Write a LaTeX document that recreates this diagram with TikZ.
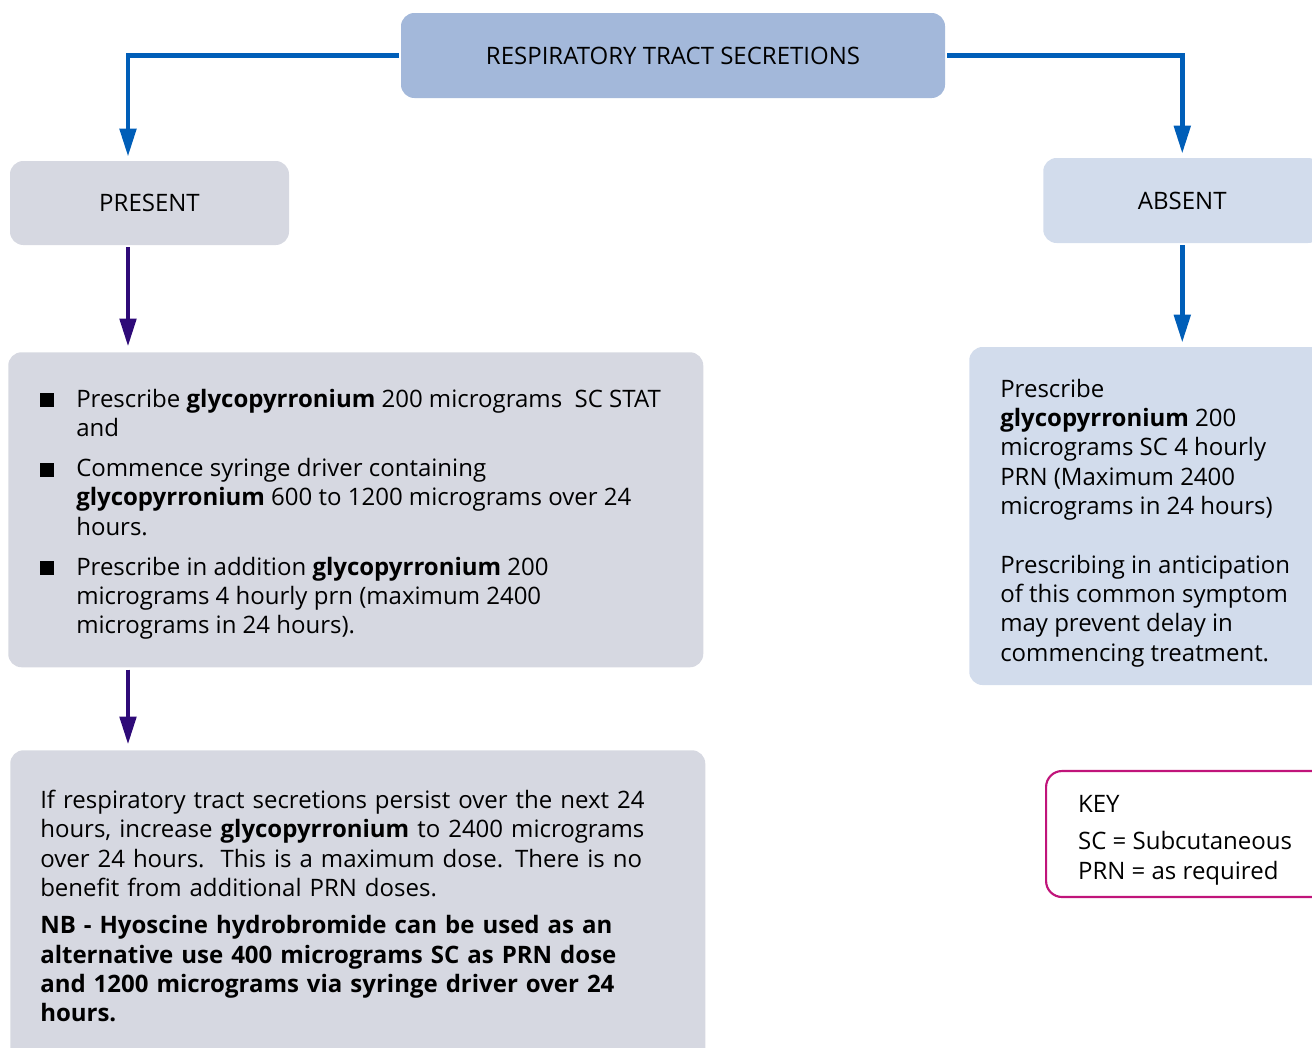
\documentclass[tikz,border=0pt]{standalone}
\usepackage{fontspec}
\setmainfont{Open Sans}
\usetikzlibrary{arrows.meta}

\definecolor{topblue}{HTML}{A3B8DA}
\definecolor{lightblue}{HTML}{D2DCEC}
\definecolor{boxgrey}{HTML}{D6D8E1}
\definecolor{lineblue}{HTML}{005EB8}
\definecolor{linepurple}{HTML}{2E0A78}
\definecolor{keyred}{HTML}{C0147A}

\begin{document}
\begin{tikzpicture}[x=0.75pt,y=-0.75pt,
	box/.style={rectangle,rounded corners=10pt,inner ysep=0pt,font=\fontsize{18}{22}\selectfont},
	bluearrow/.style={draw=lineblue,line width=3.6pt,-{Triangle[length=21pt,width=12pt]},shorten <=1.5pt,shorten >=3pt},
	purplearrow/.style={draw=linepurple,line width=3.6pt,-{Triangle[length=21pt,width=12pt]},shorten <=1.5pt,shorten >=4pt}]
	\useasboundingbox (0,0) rectangle (1312,1047);
	\clip (0,0) rectangle (1312,1047);
	% heading and the two branches
	\node [box,fill=topblue,minimum width=408pt,minimum height=63.75pt] (top) at (673,55.5) {RESPIRATORY TRACT SECRETIONS};
	\node [box,fill=boxgrey,minimum width=209.25pt,minimum height=63pt] (present) at (149.5,203) {PRESENT};
	\node [box,fill=lightblue,minimum width=208.5pt,minimum height=63.75pt,anchor=west] (absent) at (1043,200.5) {ABSENT};
	% present
	\node [box,fill=boxgrey,inner xsep=24pt,minimum height=236.25pt,anchor=north west] (presbox) at (8,352) {%
		\begin{minipage}{473.25pt}
		\vspace*{6.75pt}
		\begin{list}{\rule{10.5pt}{10.5pt}\hfill}{\setlength{\leftmargin}{27pt}\setlength{\labelwidth}{27pt}\setlength{\labelsep}{0pt}%
			\setlength{\itemsep}{8pt}\setlength{\parsep}{0pt}\setlength{\topsep}{0pt}}
		\item Prescribe \textbf{glycopyrronium} 200 micrograms\ \ SC STAT\newline and
		\item Commence syringe driver containing\newline \textbf{glycopyrronium} 600 to 1200 micrograms over 24\newline hours.
		\item Prescribe in addition \textbf{glycopyrronium} 200\newline micrograms 4 hourly prn (maximum 2400\newline micrograms in 24 hours).
		\end{list}
		\end{minipage}};
	\node [box,fill=boxgrey,inner xsep=22.5pt,text width=476.25pt,align=left,minimum height=234pt,anchor=north west] (nextbox) at (10,750) {%
		If respiratory tract secretions persist over the next 24\\ hours, increase \textbf{glycopyrronium} to 2400 micrograms\\
		over 24 hours.\ \ This is a maximum dose. There is no\\ benefit from additional PRN doses.\\[6pt]
		\bfseries NB - Hyoscine hydrobromide can be used as an\\ alternative use 400 micrograms SC as PRN dose\\
		and 1200 micrograms via syringe driver over 24\\ hours.};
	% absent
	\node [box,fill=lightblue,inner xsep=23.25pt,minimum height=253.5pt,anchor=west] (absbox) at (969,516) {%
		\begin{minipage}{260pt}\raggedright
		\vspace*{10.5pt}
		Prescribe\\ \textbf{glycopyrronium} 200\\ micrograms SC 4 hourly\\ PRN (Maximum 2400\\ micrograms in 24 hours)\\[22pt]
		Prescribing in anticipation\\ of this common symptom\\ may prevent delay in\\ commencing treatment.
		\end{minipage}};
	% key
	\node [box,draw=keyred,line width=1.6pt,rounded corners=12pt,inner xsep=24pt,minimum height=94.5pt,anchor=west] (key) at (1045,834) {%
		\begin{minipage}{250pt}\raggedright
		\vspace*{9pt}
		KEY\\[6pt] SC = Subcutaneous\\ PRN = as required
		\end{minipage}};
	% connectors
	\coordinate (lcol) at (128,0);
	\draw [bluearrow] (top.west) -| (lcol |- present.north);
	\draw [bluearrow] (top.east) -| (absent.north);
	\draw [purplearrow] (lcol |- present.south) -- (lcol |- presbox.north);
	\draw [purplearrow] (lcol |- presbox.south) -- (lcol |- nextbox.north);
	\draw [bluearrow] (absent.south) -- (absent.south |- absbox.north);
\end{tikzpicture}
\end{document}
